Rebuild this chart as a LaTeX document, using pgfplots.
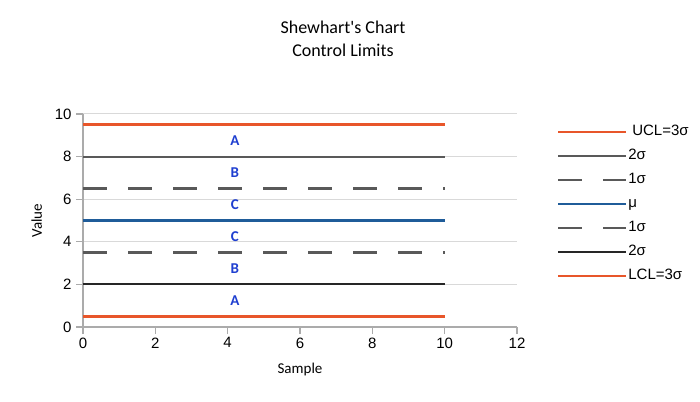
\documentclass[border=0pt]{standalone}
\usepackage{pgfplots}
\pgfplotsset{compat=1.18}
\usepackage{fontspec}
\setmainfont{Liberation Sans}
\newfontfamily\carl{Carlito}
\definecolor{limred}{HTML}{E8562A}
\definecolor{mublue}{HTML}{1F5C99}
\definecolor{dgray}{HTML}{595959}
\definecolor{gridc}{HTML}{D9D9D9}
\definecolor{axc}{HTML}{ABABAB}
\definecolor{lblue}{HTML}{1F3FD0}
\begin{document}
\begin{tikzpicture}
\useasboundingbox (0,0) rectangle (700pt,401pt);
\node[font=\carl\fontsize{18}{23}\selectfont, align=center] at (343pt,362pt) {Shewhart's Chart\\Control Limits};
\begin{axis}[
  at={(83pt,74pt)}, anchor=south west,
  scale only axis, width=434pt, height=213pt,
  xmin=0, xmax=12, ymin=0, ymax=10,
  xtick={0,2,...,12}, ytick={0,2,...,10},
  axis x line=bottom, axis y line=left,
  axis line style={-, draw=axc, line width=1.2pt},
  ymajorgrids, grid style={gridc, line width=1pt},
  tick style={axc, line width=1.2pt}, tick align=outside, major tick length=7pt,
  ticklabel style={font=\fontsize{15}{17}\selectfont},
  yticklabel style={xshift=-1pt},
  /pgf/number format/assume math mode=true,
  xlabel={\carl Sample}, ylabel={\carl Value},
  label style={font=\carl\fontsize{15}{17}\selectfont},
  xlabel style={yshift=-8pt}, ylabel style={yshift=6pt},
  clip=false,
  legend style={at={(1.092,0.955)}, anchor=north west, draw=none, fill=none,
    font=\fontsize{15}{17}\selectfont, row sep=7pt, inner sep=0pt,
    nodes={inner sep=1pt, text height=11pt, text depth=4pt}},
  legend cell align=left,
  legend image code/.code={\draw[#1, line width=2.2pt] (0pt,0pt) -- (68pt,0pt);},
]
\addplot[limred, line width=3.6pt] coordinates {(0,9.5) (10,9.5)};
\addlegendentry{\hspace{4pt}UCL=3σ}
\addplot[dgray, line width=2pt] coordinates {(0,8) (10,8)};
\addlegendentry{2σ}
\addplot[dgray, line width=2.4pt, dash pattern=on 24pt off 21pt] coordinates {(0,6.5) (10,6.5)};
\addlegendentry{1σ}
\addplot[mublue, line width=3.6pt] coordinates {(0,5) (10,5)};
\addlegendentry{μ}
\addplot[dgray, line width=2.4pt, dash pattern=on 24pt off 21pt] coordinates {(0,3.5) (10,3.5)};
\addlegendentry{1σ}
\addplot[black!85, line width=2pt] coordinates {(0,2) (10,2)};
\addlegendentry{2σ}
\addplot[limred, line width=3.6pt] coordinates {(0,0.5) (10,0.5)};
\addlegendentry{LCL=3σ}
\begin{scope}[every node/.style={font=\carl\bfseries\fontsize{15}{17}\selectfont, text=lblue}]
\node at (axis cs:4.2,8.75) {A};
\node at (axis cs:4.2,7.25) {B};
\node at (axis cs:4.2,5.75) {C};
\node at (axis cs:4.2,4.25) {C};
\node at (axis cs:4.2,2.75) {B};
\node at (axis cs:4.2,1.25) {A};
\end{scope}
\end{axis}
\end{tikzpicture}
\end{document}
